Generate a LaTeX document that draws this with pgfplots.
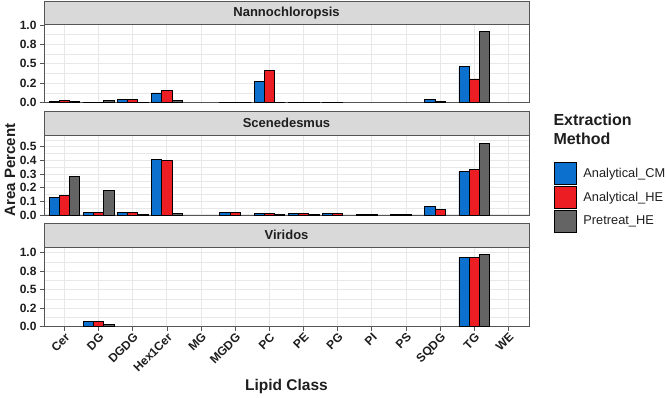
\documentclass[border=0pt]{standalone}
\usepackage{pgfplots}
\pgfplotsset{compat=1.18}
\usepackage{fontspec}
\setmainfont{Liberation Sans}

\definecolor{cmblue}{RGB}{12,112,206}
\definecolor{hered}{RGB}{236,30,36}
\definecolor{ptgray}{RGB}{100,100,100}
\definecolor{stripfill}{RGB}{217,217,217}
\definecolor{framec}{RGB}{85,85,85}
\definecolor{gridc}{RGB}{232,232,232}
\definecolor{textc}{RGB}{30,30,30}

\pgfplotsset{
  panel/.style={
    scale only axis, width=485pt,
    xmin=-0.6, xmax=13.6, ymin=0,
    xtick={0,...,13},
    xmajorgrids, ymajorgrids, yminorgrids,
    major grid style={gridc, line width=1pt},
    minor grid style={gridc, line width=0.5pt},
    axis line style={framec, line width=0.8pt},
    tick style={framec, line width=0.8pt},
    major tick length=4pt, minor tick length=0pt,
    tick align=outside, ytick pos=left, xtick pos=bottom,
    yticklabel style={font=\bfseries\fontsize{12}{12}\selectfont, text=textc},
    xticklabel style={font=\bfseries\fontsize{12}{12}\selectfont, text=textc,
      rotate=45, anchor=north east, inner sep=1pt},
    bar width=0.3,
    every axis plot/.append style={draw=black, line width=0.9pt},
    clip=false,
  },
  cm/.style={ybar, bar shift=-0.3, fill=cmblue},
  he/.style={ybar, bar shift=0, fill=hered},
  pt/.style={ybar, bar shift=0.3, fill=ptgray},
  wide ticks/.style={
    ytick={0,0.25,0.5,0.75,1}, yticklabels={0.0,0.2,0.5,0.8,1.0},
    minor ytick={0.125,0.375,0.625,0.875},
  },
}

% lipid classes: 0 Cer, 1 DG, 2 DGDG, 3 Hex1Cer, 4 MG, 5 MGDG, 6 PC,
% 7 PE, 8 PG, 9 PI, 10 PS, 11 SQDG, 12 TG, 13 WE
\newcommand{\strip}[1]{%
  \draw[fill=stripfill, draw=framec, line width=0.8pt]
    (rel axis cs:0,1) rectangle ([yshift=23.5pt]rel axis cs:1,1);
  \node[font=\bfseries\fontsize{13}{13}\selectfont, text=textc]
    at ([yshift=11.75pt]rel axis cs:0.5,1) {#1};
}

\begin{document}
\begin{tikzpicture}
\useasboundingbox (0,0) rectangle (666pt,398pt);

% Nannochloropsis
\begin{axis}[panel, wide ticks, at={(44pt,295.5pt)}, anchor=south west,
  height=78pt, ymax=1.006, xticklabels={}, xtick style={draw=none}]
\addplot[cm] coordinates {(0,0.012) (1,0.003) (2,0.036) (3,0.123) (5,0.003) (6,0.277) (7,0.003) (8,0.002) (11,0.040) (12,0.460)};
\addplot[he] coordinates {(0,0.023) (1,0.004) (2,0.045) (3,0.160) (5,0.003) (6,0.410) (7,0.003) (8,0.002) (11,0.010) (12,0.303)};
\addplot[pt] coordinates {(0,0.015) (1,0.025) (2,0.002) (3,0.025) (5,0.002) (6,0.004) (7,0.002) (12,0.913)};
\strip{Nannochloropsis}
\end{axis}

% Scenedesmus
\begin{axis}[panel, at={(44pt,183pt)}, anchor=south west,
  height=80pt, ymax=0.586, xticklabels={}, xtick style={draw=none},
  ytick={0,0.1,0.2,0.3,0.4,0.5}, yticklabels={0.0,0.1,0.2,0.3,0.4,0.5},
  minor ytick={0.05,0.15,0.25,0.35,0.45,0.55},
  legend image code/.code={\draw[#1, line width=0.9pt] (0pt,-11pt) rectangle (22pt,11pt);},
  legend style={at={(1.0501,0.666)}, anchor=north west, draw=none, fill=none,
    inner sep=0pt, row sep=1pt,
    font=\fontsize{12.8}{13}\selectfont, text=textc,
    nodes={inner sep=2pt},
    /tikz/every odd column/.append style={column sep=5pt}},
  legend cell align=left]
\addlegendimage{fill=cmblue, draw=black}
\addlegendimage{fill=hered, draw=black}
\addlegendimage{fill=ptgray, draw=black}
\legend{Analytical\_CM, Analytical\_HE, Pretreat\_HE}
\addplot[cm] coordinates {(0,0.127) (1,0.020) (2,0.020) (3,0.410) (5,0.015) (6,0.012) (7,0.012) (8,0.010) (9,0.002) (10,0.002) (11,0.064) (12,0.317)};
\addplot[he] coordinates {(0,0.141) (1,0.020) (2,0.015) (3,0.400) (5,0.015) (6,0.012) (7,0.012) (8,0.008) (9,0.002) (10,0.002) (11,0.040) (12,0.330)};
\addplot[pt] coordinates {(0,0.280) (1,0.180) (2,0.002) (3,0.013) (6,0.003) (7,0.002) (12,0.527)};
\strip{Scenedesmus}
\end{axis}

% Viridos
\begin{axis}[panel, wide ticks, at={(44pt,71.3pt)}, anchor=south west,
  height=79.7pt, ymax=1.077,
  xticklabels={Cer,DG,DGDG,Hex1Cer,MG,MGDG,PC,PE,PG,PI,PS,SQDG,TG,WE}]
\addplot[cm] coordinates {(1,0.065) (12,0.932)};
\addplot[he] coordinates {(1,0.065) (12,0.932)};
\addplot[pt] coordinates {(1,0.030) (12,0.978)};
\strip{Viridos}
\end{axis}

\node[rotate=90, font=\bfseries\fontsize{15}{15}\selectfont, text=textc]
  at (10pt,228pt) {Area Percent};
\node[anchor=base, font=\bfseries\fontsize{15.5}{15.5}\selectfont, text=textc]
  at (286.5pt,7pt) {Lipid Class};
\node[anchor=north west, align=left, inner sep=0pt,
  font=\bfseries\fontsize{16}{19}\selectfont, text=textc]
  at (553.3pt,284pt) {Extraction\\Method};
\end{tikzpicture}
\end{document}
